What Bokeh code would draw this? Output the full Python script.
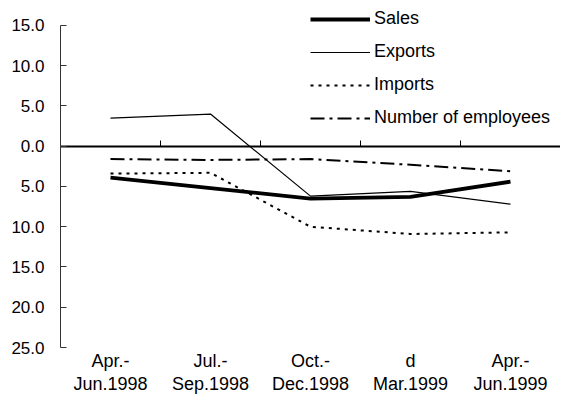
from bokeh.plotting import figure
from bokeh.models import (Range1d, LinearAxis, FixedTicker, CustomJSTickFormatter,
                          Legend, LegendItem)
from bokeh.embed import file_html
from bokeh.resources import INLINE
import numpy as np

categories = ["Apr.-\nJun.1998", "Jul.-\nSep.1998", "Oct.-\nDec.1998", "d\nMar.1999", "Apr.-\nJun.1999"]
sales = [-3.9, -5.2, -6.5, -6.3, -4.4]
exports = [3.5, 4.0, -6.2, -5.6, -7.2]
imports = [-3.4, -3.3, -10.0, -10.9, -10.7]
employees = [-1.6, -1.7, -1.6, -2.3, -3.1]
y_ticks = [-25, -20, -15, -10, -5, 0, 5, 10, 15]

FONT = "Liberation Sans"
xs = list(np.arange(len(categories)) + 0.5)

p = figure(width=560, height=410, output_backend="svg", toolbar_location=None,
           x_range=Range1d(0, len(categories)), y_range=Range1d(-25, 17.11),
           x_axis_type=None, y_axis_type=None,
           min_border_left=60, min_border_right=0, min_border_top=8, min_border_bottom=63)
p.outline_line_color = None
p.xgrid.visible = False
p.ygrid.visible = False
p.background_fill_color = "white"
p.border_fill_color = "white"

# y axis
yax = LinearAxis(ticker=FixedTicker(ticks=y_ticks), bounds=(-25, 15),
                 formatter=CustomJSTickFormatter(code="return Math.abs(tick).toFixed(1)"))
yax.axis_line_color = "#333333"
yax.major_tick_line_color = "#333333"
yax.major_tick_in = 6
yax.major_tick_out = 0
yax.minor_tick_line_color = None
yax.major_label_standoff = 16
yax.major_label_text_font = FONT
yax.major_label_text_font_size = "17px"
yax.major_label_text_color = "black"
p.add_layout(yax, "left")

# category labels
xax = LinearAxis(ticker=FixedTicker(ticks=xs),
                 major_label_overrides={x: c for x, c in zip(xs, categories)})
xax.axis_line_color = None
xax.major_tick_line_color = None
xax.minor_tick_line_color = None
xax.major_label_standoff = -3
xax.major_label_text_font = FONT
xax.major_label_text_font_size = "18px"
xax.major_label_text_line_height = 1.15
xax.major_label_text_color = "black"
p.add_layout(xax, "below")

# zero line axis
zax = LinearAxis(ticker=FixedTicker(ticks=[1, 2, 3, 4]), fixed_location=0,
                 bounds=(0, len(categories)))
zax.axis_line_color = "black"
zax.axis_line_width = 2
zax.major_tick_line_color = "black"
zax.major_tick_in = 6
zax.major_tick_out = 0
zax.minor_tick_line_color = None
zax.major_label_text_font_size = "0px"
zax.major_label_text_alpha = 0
p.add_layout(zax, "below")

r1 = p.line(xs, sales, line_color="black", line_width=3.8)
r2 = p.line(xs, exports, line_color="black", line_width=1.2)
r3 = p.line(xs, imports, line_color="black", line_width=2, line_dash="3 5")
r4 = p.line(xs, employees, line_color="black", line_width=2, line_dash="14 5 3 5")

legend = Legend(items=[LegendItem(label="Sales", renderers=[r1]),
                       LegendItem(label="Exports", renderers=[r2]),
                       LegendItem(label="Imports", renderers=[r3]),
                       LegendItem(label="Number of employees", renderers=[r4])],
                location="top_right")
legend.border_line_color = None
legend.background_fill_alpha = 0
legend.margin = 0
legend.padding = 0
legend.glyph_width = 60
legend.glyph_height = 20
legend.label_standoff = 4
legend.label_width = 186
legend.spacing = 12
legend.label_text_font = FONT
legend.label_text_font_size = "18px"
legend.label_text_color = "black"
p.add_layout(legend)

open("out.html", "w").write(file_html(p, INLINE))
